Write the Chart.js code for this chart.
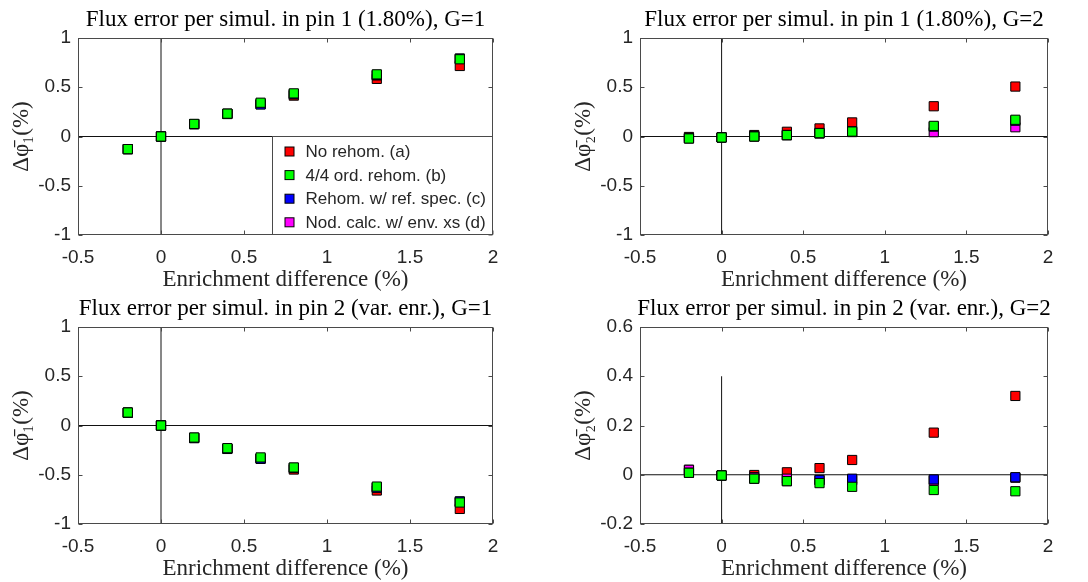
<!DOCTYPE html>
<html>
<head>
<meta charset="utf-8">
<script src="https://cdn.jsdelivr.net/npm/chart.js@4.4.0/dist/chart.umd.min.js"></script>
<style>
  body { margin: 0; background: #fff; }
  #wrap { position: relative; width: 1088px; height: 582px; overflow: hidden; }
  canvas { position: absolute; }
</style>
</head>
<body>
<div id="wrap">
  <canvas id="p1g1" width="544" height="291" style="left:0;top:0"></canvas>
  <canvas id="p1g2" width="526" height="291" style="left:562px;top:0"></canvas>
  <canvas id="p2g1" width="544" height="293" style="left:0;top:289px"></canvas>
  <canvas id="p2g2" width="526" height="293" style="left:562px;top:289px"></canvas>
</div>
<script>
// enrichment difference (%) of each simulation, shared x values
const enrichDiff = [-0.2, 0, 0.2, 0.4, 0.6, 0.8, 1.3, 1.8];

const seriesLabels = ['No rehom. (a)', '4/4 ord. rehom. (b)', 'Rehom. w/ ref. spec. (c)', 'Nod. calc. w/ env. xs (d)'];
const seriesColors = ['#ff0000', '#00ff00', '#0000ff', '#ff00ff'];
// lower order = drawn on top (green last, red first)
const drawOrder = [3, 0, 1, 2];

// pin 1 (1.80%), group 1
const pin1G1_a = [-0.128, 0, 0.125, 0.228, 0.33, 0.415, 0.585, 0.716];
const pin1G1_b = [-0.128, 0, 0.128, 0.232, 0.343, 0.438, 0.631, 0.784];
const pin1G1_c = [-0.128, 0, 0.126, 0.23, 0.325, 0.43, 0.625, 0.792];
const pin1G1_d = [-0.128, 0, 0.126, 0.23, 0.33, 0.43, 0.62, 0.788];

// pin 1 (1.80%), group 2
const pin1G2_a = [-0.005, -0.008, 0.015, 0.048, 0.082, 0.143, 0.307, 0.507];
const pin1G2_b = [-0.02, -0.01, 0, 0.014, 0.034, 0.05, 0.108, 0.17];
const pin1G2_c = [-0.018, -0.01, 0.002, 0.016, 0.036, 0.052, 0.1, 0.16];
const pin1G2_d = [-0.018, -0.01, 0, 0.012, 0.03, 0.045, 0.044, 0.094];

// pin 2 (var. enr.), group 1
const pin2G1_a = [0.13, 0, -0.124, -0.234, -0.335, -0.447, -0.66, -0.847];
const pin2G1_b = [0.132, 0, -0.122, -0.23, -0.324, -0.426, -0.62, -0.782];
const pin2G1_c = [0.13, 0, -0.128, -0.238, -0.338, -0.43, -0.632, -0.77];
const pin2G1_d = [0.13, 0, -0.127, -0.236, -0.336, -0.432, -0.63, -0.775];

// pin 2 (var. enr.), group 2
const pin2G2_a = [0.02, -0.003, -0.001, 0.01, 0.027, 0.06, 0.171, 0.32];
const pin2G2_b = [0.008, -0.003, -0.016, -0.026, -0.034, -0.049, -0.062, -0.067];
const pin2G2_c = [0.008, -0.003, -0.016, -0.026, -0.021, -0.016, -0.019, -0.01];
const pin2G2_d = [0.02, -0.003, -0.01, -0.016, -0.022, -0.022, -0.024, -0.012];

// axis limits and ticks
const xLimits = [-0.5, 2];
const xTicks = [-0.5, 0, 0.5, 1, 1.5, 2];
const yLimitsWide = [-1, 1];
const yTicksWide = [-1, -0.5, 0, 0.5, 1];
const yLimitsNarrow = [-0.2, 0.6];
const yTicksNarrow = [-0.2, 0, 0.2, 0.4, 0.6];
const vLineNarrow = [-0.2, 0.4];

const tickFont = { family: 'Liberation Sans, Arial, sans-serif', size: 19 };
const serifFont = 'Liberation Serif, Times New Roman, serif';
const textColor = '#262626';

// title above the plot area
const panelTitle = {
  id: 'panelTitle',
  afterDraw(chart, args, opts) {
    const { ctx, chartArea } = chart;
    ctx.save();
    ctx.font = '23px ' + serifFont;
    ctx.fillStyle = '#000';
    ctx.textAlign = 'center';
    ctx.textBaseline = 'alphabetic';
    ctx.fillText(opts.text, (chartArea.left + chartArea.right) / 2, chartArea.top - 12);
    ctx.restore();
  }
};

// box around the axes with inward ticks on all four sides
const axesBox = {
  id: 'axesBox',
  afterDatasetsDraw(chart) {
    const { ctx, chartArea: a, scales } = chart;
    const L = Math.round(a.left) + 0.5, R = Math.round(a.right) - 0.5;
    const T = Math.round(a.top) + 0.5, B = Math.round(a.bottom) - 0.5;
    ctx.save();
    ctx.strokeStyle = '#4a4a4a';
    ctx.lineWidth = 1;
    ctx.strokeRect(L, T, R - L, B - T);
    ctx.beginPath();
    scales.x.ticks.forEach(t => {
      const px = Math.round(scales.x.getPixelForValue(t.value)) + 0.5;
      ctx.moveTo(px, B); ctx.lineTo(px, B - 4);
      ctx.moveTo(px, T); ctx.lineTo(px, T + 4);
    });
    scales.y.ticks.forEach(t => {
      const py = Math.round(scales.y.getPixelForValue(t.value)) + 0.5;
      ctx.moveTo(L, py); ctx.lineTo(L + 4, py);
      ctx.moveTo(R, py); ctx.lineTo(R - 4, py);
    });
    ctx.stroke();
    ctx.restore();
  }
};

// legend box in the lower right corner of the plot area
const boxLegend = {
  id: 'boxLegend',
  afterDatasetsDraw(chart, args, opts) {
    if (!opts.display) return;
    const { ctx, chartArea: a } = chart;
    const w = 221, h = 99;
    const x0 = Math.round(a.right - w) + 0.5, y0 = Math.round(a.bottom - h) + 0.5;
    ctx.save();
    ctx.fillStyle = '#fff';
    ctx.fillRect(x0, y0, w, h);
    ctx.strokeStyle = '#4a4a4a';
    ctx.lineWidth = 1;
    ctx.strokeRect(x0, y0, w - 1, h - 1);
    ctx.font = '17px ' + tickFont.family;
    ctx.textBaseline = 'middle';
    ctx.textAlign = 'left';
    chart.data.datasets.forEach(ds => {
      if (!ds.legendRow && ds.legendRow !== 0) return;
      const cy = y0 + 15 + ds.legendRow * 23.6;
      ctx.fillStyle = ds.backgroundColor;
      ctx.fillRect(x0 + 12.5, cy - 4.5, 9, 9);
      ctx.strokeStyle = '#000';
      ctx.strokeRect(x0 + 12.5, cy - 4.5, 9, 9);
      ctx.fillStyle = textColor;
      ctx.fillText(ds.label, x0 + 33, cy + 1);
    });
    ctx.restore();
  }
};

function refLine(points) {
  return {
    data: points,
    showLine: true,
    borderColor: '#111',
    borderWidth: 1,
    pointRadius: 0,
    pointHoverRadius: 0,
    order: 10
  };
}

function makePanel(id, opt) {
  const datasets = opt.series.map((vals, i) => ({
    label: seriesLabels[i],
    legendRow: i,
    data: enrichDiff.map((x, k) => ({ x: x, y: vals[k] })),
    backgroundColor: seriesColors[i],
    borderColor: '#000',
    borderWidth: 1,
    pointStyle: 'rect',
    pointRadius: 6.5,
    pointHoverRadius: 6.5,
    order: drawOrder[i]
  }));
  datasets.push(refLine(xLimits.map(x => ({ x: x, y: 0 }))));
  datasets.push(refLine(opt.vLine.map(y => ({ x: 0, y: y }))));

  new Chart(document.getElementById(id), {
    type: 'scatter',
    data: { datasets: datasets },
    options: {
      responsive: false,
      devicePixelRatio: 1,
      animation: false,
      events: [],
      layout: { padding: { left: 0, top: 38, right: opt.padRight, bottom: 0 } },
      plugins: {
        legend: { display: false },
        tooltip: { enabled: false },
        panelTitle: { text: opt.title },
        boxLegend: { display: !!opt.legend }
      },
      scales: {
        x: {
          type: 'linear',
          min: xLimits[0],
          max: xLimits[1],
          grid: { display: false, drawTicks: false },
          border: { display: false },
          afterBuildTicks: s => { s.ticks = xTicks.map(v => ({ value: v })); },
          afterFit: s => { s.height = opt.xHeight; },
          ticks: { font: tickFont, color: textColor, padding: 11, maxRotation: 0, callback: v => String(v) },
          title: {
            display: true,
            text: 'Enrichment difference (%)',
            color: textColor,
            font: { family: serifFont, size: 23, lineHeight: 1 },
            padding: { top: 0, bottom: opt.xTitlePad }
          }
        },
        y: {
          type: 'linear',
          min: opt.yLimits[0],
          max: opt.yLimits[1],
          grid: { display: false, drawTicks: false },
          border: { display: false },
          afterBuildTicks: s => { s.ticks = opt.yTicks.map(v => ({ value: v })); },
          afterFit: s => { s.width = 78; },
          ticks: { font: tickFont, color: textColor, padding: 7, callback: v => String(v) },
          title: {
            display: true,
            text: opt.yTitle,
            color: textColor,
            font: { family: serifFont, size: 23, lineHeight: 1 },
            padding: { top: 10, bottom: 0 }
          }
        }
      }
    },
    plugins: [panelTitle, axesBox, boxLegend]
  });
}

makePanel('p1g1', {
  title: 'Flux error per simul. in pin 1 (1.80%), G=1',
  yTitle: '\u0394\u03C6\u0304\u2081(%)',
  series: [pin1G1_a, pin1G1_b, pin1G1_c, pin1G1_d],
  yLimits: yLimitsWide, yTicks: yTicksWide, vLine: yLimitsWide,
  padRight: 51, xHeight: 56, xTitlePad: 0, legend: true
});
makePanel('p1g2', {
  title: 'Flux error per simul. in pin 1 (1.80%), G=2',
  yTitle: '\u0394\u03C6\u0304\u2082(%)',
  series: [pin1G2_a, pin1G2_b, pin1G2_c, pin1G2_d],
  yLimits: yLimitsWide, yTicks: yTicksWide, vLine: yLimitsWide,
  padRight: 40, xHeight: 56, xTitlePad: 0
});
makePanel('p2g1', {
  title: 'Flux error per simul. in pin 2 (var. enr.), G=1',
  yTitle: '\u0394\u03C6\u0304\u2081(%)',
  series: [pin2G1_a, pin2G1_b, pin2G1_c, pin2G1_d],
  yLimits: yLimitsWide, yTicks: yTicksWide, vLine: yLimitsWide,
  padRight: 51, xHeight: 58, xTitlePad: 1.5
});
makePanel('p2g2', {
  title: 'Flux error per simul. in pin 2 (var. enr.), G=2',
  yTitle: '\u0394\u03C6\u0304\u2082(%)',
  series: [pin2G2_a, pin2G2_b, pin2G2_c, pin2G2_d],
  yLimits: yLimitsNarrow, yTicks: yTicksNarrow, vLine: vLineNarrow,
  padRight: 40, xHeight: 58, xTitlePad: 1.5
});
</script>
</body>
</html>
